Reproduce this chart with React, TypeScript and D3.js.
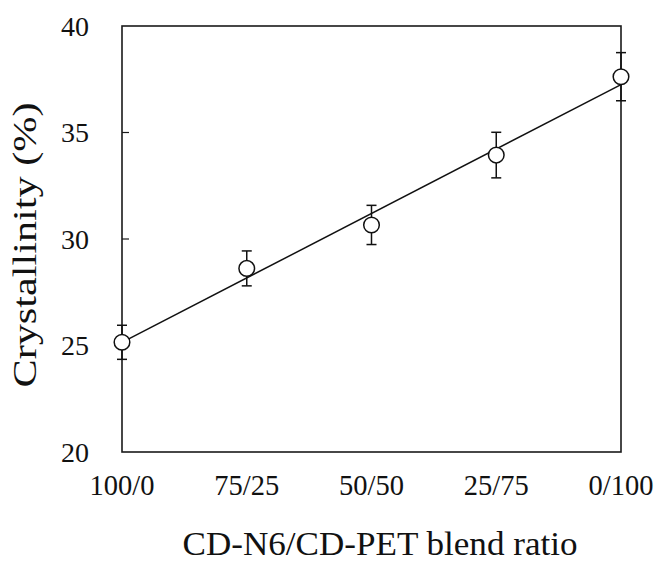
import React, { useRef, useEffect } from "react";
import * as d3 from "d3";

const blendRatios = ["100/0", "75/25", "50/50", "25/75", "0/100"];
const crystallinity = [25.15, 28.62, 30.66, 33.94, 37.62];
const errorBars = [0.8, 0.82, 0.92, 1.07, 1.13];
const yTicks = [20, 25, 30, 35, 40];

const App = () => {
  const chartRef = useRef<HTMLDivElement>(null);

  useEffect(() => {
    document.body.style.margin = "0";
    const width = 655;
    const height = 566;
    const marginLeft = 122;
    const marginRight = 34;
    const marginTop = 26;
    const marginBottom = 114;
    const font = "'Liberation Serif', 'Times New Roman', serif";

    const x = d3.scaleLinear()
      .domain([0, blendRatios.length - 1])
      .range([marginLeft, width - marginRight]);

    const y = d3.scaleLinear()
      .domain([20, 40])
      .range([height - marginBottom, marginTop]);

    const data = blendRatios.map((label, i) => ({
      i, label, value: crystallinity[i], err: errorBars[i],
    }));

    // least squares line through the points
    const mx = d3.mean(data, d => d.i)!;
    const my = d3.mean(data, d => d.value)!;
    const slope = d3.sum(data, d => (d.i - mx) * (d.value - my)) / d3.sum(data, d => (d.i - mx) ** 2);
    const fit = (t: number) => my + slope * (t - mx);

    const svg = d3.create("svg")
      .attr("width", width)
      .attr("height", height)
      .attr("viewBox", [0, 0, width, height])
      .style("display", "block")
      .style("background", "#fff");

    // frame
    svg.append("rect")
      .attr("x", marginLeft)
      .attr("y", marginTop)
      .attr("width", width - marginLeft - marginRight)
      .attr("height", height - marginTop - marginBottom)
      .attr("fill", "none")
      .attr("stroke", "#1a1a1a")
      .attr("stroke-width", 1.6);

    // y ticks (inward) + labels
    const yAxis = svg.append("g");
    yAxis.selectAll("line")
      .data(yTicks.slice(1, -1))
      .join("line")
      .attr("x1", marginLeft)
      .attr("x2", marginLeft + 7)
      .attr("y1", d => y(d))
      .attr("y2", d => y(d))
      .attr("stroke", "#1a1a1a")
      .attr("stroke-width", 1.2);
    yAxis.selectAll("text")
      .data(yTicks)
      .join("text")
      .attr("x", 89)
      .attr("y", d => y(d))
      .attr("dy", "0.35em")
      .attr("text-anchor", "end")
      .attr("font-family", font)
      .attr("font-size", 28)
      .attr("fill", "#111")
      .text(d => d);

    // x labels
    svg.append("g")
      .selectAll("text")
      .data(data)
      .join("text")
      .attr("x", d => x(d.i))
      .attr("y", 495)
      .attr("text-anchor", "middle")
      .attr("font-family", font)
      .attr("font-size", 28.5)
      .attr("fill", "#111")
      .text(d => d.label);

    // axis titles
    svg.append("text")
      .attr("x", 380)
      .attr("y", 555)
      .attr("text-anchor", "middle")
      .attr("font-family", font)
      .attr("font-size", 34)
      .attr("fill", "#111")
      .attr("textLength", 395)
      .attr("lengthAdjust", "spacingAndGlyphs")
      .text("CD-N6/CD-PET blend ratio");

    svg.append("text")
      .attr("transform", `translate(36,245) rotate(-90)`)
      .attr("text-anchor", "middle")
      .attr("font-family", font)
      .attr("font-size", 33)
      .attr("fill", "#111")
      .attr("textLength", 285)
      .attr("lengthAdjust", "spacingAndGlyphs")
      .text("Crystallinity (%)");

    // fit line
    svg.append("line")
      .attr("x1", x(0))
      .attr("y1", y(fit(0)))
      .attr("x2", x(blendRatios.length - 1))
      .attr("y2", y(fit(blendRatios.length - 1)))
      .attr("stroke", "#111")
      .attr("stroke-width", 1.5);

    // error bars
    const eb = svg.append("g")
      .attr("stroke", "#111")
      .attr("stroke-width", 1.5)
      .selectAll("g")
      .data(data)
      .join("g");
    eb.append("line")
      .attr("x1", d => x(d.i))
      .attr("x2", d => x(d.i))
      .attr("y1", d => y(d.value - d.err))
      .attr("y2", d => y(d.value + d.err));
    eb.append("line")
      .attr("x1", d => x(d.i) - 5)
      .attr("x2", d => x(d.i) + 5)
      .attr("y1", d => y(d.value + d.err))
      .attr("y2", d => y(d.value + d.err));
    eb.append("line")
      .attr("x1", d => x(d.i) - 5)
      .attr("x2", d => x(d.i) + 5)
      .attr("y1", d => y(d.value - d.err))
      .attr("y2", d => y(d.value - d.err));

    // markers
    svg.append("g")
      .selectAll("circle")
      .data(data)
      .join("circle")
      .attr("cx", d => x(d.i))
      .attr("cy", d => y(d.value))
      .attr("r", 7.8)
      .attr("fill", "#fff")
      .attr("stroke", "#111")
      .attr("stroke-width", 1.5);

    chartRef.current!.innerHTML = "";
    chartRef.current!.appendChild(svg.node()!);
  }, []);

  return <div ref={chartRef} />;
};

export default App;
